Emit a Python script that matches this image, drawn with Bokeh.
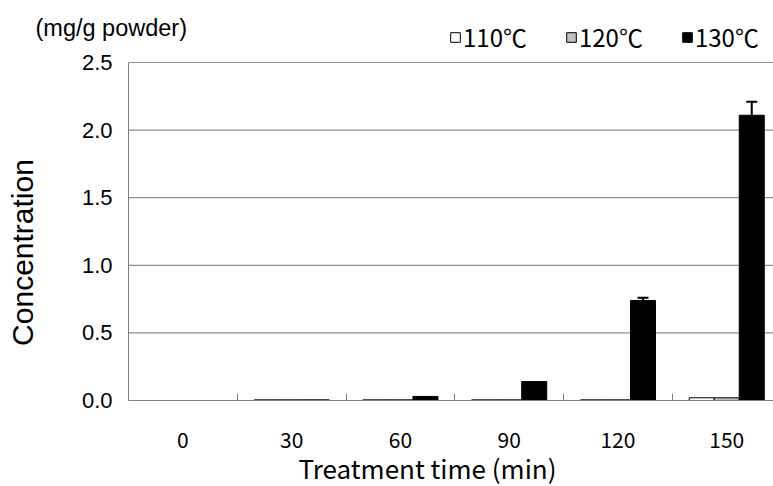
import math
from bokeh.plotting import figure
from bokeh.models import (ColumnDataSource, Range1d, FixedTicker, Legend, LegendItem,
                          Label, Whisker, TeeHead)
from bokeh.embed import file_html
from bokeh.resources import INLINE

times = ["0", "30", "60", "90", "120", "150"]
series_names = ["110\u2103", "120\u2103", "130\u2103"]
v110 = [0.0, 0.005, 0.005, 0.005, 0.005, 0.02]
v120 = [0.0, 0.005, 0.005, 0.005, 0.005, 0.02]
v130 = [0.0, 0.005, 0.03, 0.14, 0.74, 2.11]
err130 = [0.0, 0.0, 0.0, 0.0, 0.02, 0.10]
y_ticks = [0.0, 0.5, 1.0, 1.5, 2.0, 2.5]
unit_text = "(mg/g powder)"
y_title = "Concentration"
x_title = "Treatment time (min)"

# ---- layout (pixels) ----
W, H = 773, 486
PLOT_L, PLOT_B, PLOT_T = 128, 400, 62
CAT_PX = 108.77
Y_PX = (PLOT_B - PLOT_T) / y_ticks[-1]

x_start = -PLOT_L / CAT_PX
x_end = (W - PLOT_L) / CAT_PX
y_start = -(H - PLOT_B) / Y_PX
y_end = PLOT_B / Y_PX

fills = ["white", "#c0c0c0", "black"]
bw = 0.23
n = len(times)
centers = [i + 0.5 for i in range(n)]

p = figure(width=W, height=H, output_backend="svg", toolbar_location=None,
           x_range=Range1d(x_start, x_end), y_range=Range1d(y_start, y_end),
           min_border_left=0, min_border_top=0, min_border_bottom=0,
           min_border_right=0)
p.outline_line_color = None
p.background_fill_color = "white"
p.border_fill_color = "white"
p.xgrid.visible = False
p.ygrid.visible = False

# grid lines over the data area
p.segment(x0=[0.0] * (len(y_ticks) - 1), x1=[x_end] * (len(y_ticks) - 1),
          y0=y_ticks[1:], y1=y_ticks[1:], line_color="#909090", line_width=1.2)

renderers = []
for k, (vals, col) in enumerate(zip([v110, v120, v130], fills)):
    xs = [c + (k - 1) * bw for c in centers]
    src = ColumnDataSource(dict(x=xs, top=vals))
    r = p.vbar(x="x", top="top", width=bw, source=src, fill_color=col,
               line_color="black", line_width=1)
    renderers.append(r)

ex = [c + bw for c, e in zip(centers, err130) if e > 0]
etop = [v for v, e in zip(v130, err130) if e > 0]
eup = [v + e for v, e in zip(v130, err130) if e > 0]
esrc = ColumnDataSource(dict(x=ex, lower=etop, upper=eup))
w = Whisker(base="x", lower="lower", upper="upper", source=esrc,
            line_color="black", line_width=2,
            upper_head=TeeHead(size=11, line_color="black", line_width=2),
            lower_head=None)
p.add_layout(w)

# x axis drawn at y = 0
xa = p.xaxis[0]
xa.fixed_location = 0.0
xa.bounds = (0.0, x_end)
xa.ticker = FixedTicker(ticks=centers, minor_ticks=[float(i) for i in range(1, n)])
xa.major_label_overrides = {c: t for c, t in zip(centers, times)}
xa.major_tick_line_color = None
xa.minor_tick_in = 7
xa.minor_tick_out = 0
xa.minor_tick_line_color = "#808080"
xa.axis_line_color = "#808080"
xa.major_label_text_font = "Noto Sans CJK JP"
xa.major_label_text_font_size = "21px"
xa.major_label_text_color = "black"
xa.major_label_standoff = 25

# y axis drawn at x = 0
ya = p.yaxis[0]
ya.fixed_location = 0.0
ya.bounds = (y_ticks[0], y_ticks[-1])
ya.ticker = FixedTicker(ticks=y_ticks)
ya.major_label_overrides = {t: f"{t:.1f}" for t in y_ticks}
ya.major_tick_line_color = None
ya.minor_tick_line_color = None
ya.axis_line_color = "#808080"
ya.major_label_text_font = "Liberation Sans"
ya.major_label_text_font_size = "22px"
ya.major_label_text_color = "black"
ya.major_label_standoff = 10

# titles (screen px from bottom-left of the figure)
p.add_layout(Label(x=35, y=H - 27, x_units="screen", y_units="screen", text=unit_text,
                   text_font="Liberation Sans", text_font_size="23.5px",
                   text_baseline="middle", text_align="left", text_color="black"))
p.add_layout(Label(x=22, y=H - 252, x_units="screen", y_units="screen", text=y_title,
                   angle=math.pi / 2, text_font="Liberation Sans", text_font_size="30px",
                   text_baseline="middle", text_align="center", text_color="black"))
p.add_layout(Label(x=427, y=H - 467, x_units="screen", y_units="screen", text=x_title,
                   text_font="Noto Sans CJK JP", text_font_size="26px",
                   text_baseline="middle", text_align="center", text_color="black"))

legend = Legend(items=[LegendItem(label=nm, renderers=[r]) for nm, r in zip(series_names, renderers)],
                location=(449, H - 54), orientation="horizontal",
                glyph_width=12, glyph_height=12, label_standoff=2, spacing=38,
                padding=0, margin=0, border_line_color=None, background_fill_alpha=0,
                label_text_font="Noto Sans CJK JP", label_text_font_size="24px",
                label_text_color="black")
p.add_layout(legend)

open("out.html", "w").write(file_html(p, INLINE))
